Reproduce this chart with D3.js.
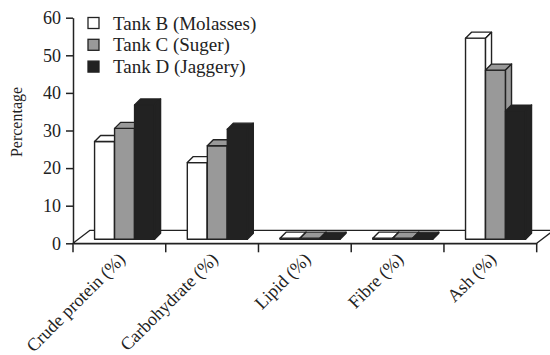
<!DOCTYPE html>
<html>
<head>
<meta charset="utf-8">
<script src="https://cdn.jsdelivr.net/npm/d3@7"></script>
<style>
  html, body { margin: 0; padding: 0; background: #fff; }
  svg { display: block; }
  svg text { font-family: "Liberation Serif", "DejaVu Serif", "Times New Roman", serif; }
</style>
</head>
<body>
<svg id="chart" width="550" height="355"></svg>
<script>
// Proximate composition by tank
const categories = ["Crude protein (%)", "Carbohydrate (%)", "Lipid (%)", "Fibre (%)", "Ash (%)"];
const seriesNames = ["Tank B (Molasses)", "Tank C (Suger)", "Tank D (Jaggery)"];
const tankB = [26.0, 20.4, 0.3, 0.3, 53.5];
const tankC = [29.5, 24.9, 0.3, 0.3, 45.0];
const tankD = [35.7, 29.3, 0.3, 0.3, 34.1];
const yTicks = [0, 10, 20, 30, 40, 50, 60];

const seriesValues = [tankB, tankC, tankD];
const fills = ["#ffffff", "#999999", "#222222"];
const ink = "#222222";
const serif = '"Liberation Serif", "DejaVu Serif", serif';

const svg = d3.select("#chart");

const x = d3.scaleBand().domain(categories).range([73, 536.7]);
const y = d3.scaleLinear().domain([0, 60]).range([243.3, 17.7]);
const groupW = 60;
const xs = d3.scaleBand().domain(seriesNames).range([0, groupW]);

// oblique offsets: floor depth, bar placement on the floor, bar thickness
const floorD = { dx: 17, dy: -13 };
const barPos = { dx: 5.2, dy: -4 };
const barD = { dx: 6, dy: -6 };

// floor
const fx0 = x.range()[0], fx1 = x.range()[1], fy = y(0);
const pts = a => a.map(p => p.join(",")).join(" ");
svg.append("polygon")
  .attr("points", pts([[fx0, fy], [fx1, fy], [fx1 + floorD.dx, fy + floorD.dy], [fx0 + floorD.dx, fy + floorD.dy]]))
  .attr("fill", "#fff").attr("stroke", ink).attr("stroke-width", 1.3).attr("stroke-linejoin", "round");

// bars: front, top and side faces
categories.forEach((cat, ci) => {
  seriesNames.forEach((s, si) => {
    const v = seriesValues[si][ci];
    const x0 = x(cat) + (x.bandwidth() - groupW) / 2 + xs(s) + barPos.dx;
    const x1 = x0 + xs.bandwidth();
    const yb = y(0) + barPos.dy;
    const yt = y(v) + barPos.dy;
    const g = svg.append("g");
    const style = sel => sel.attr("fill", fills[si]).attr("stroke", ink)
      .attr("stroke-width", 1.4).attr("stroke-linejoin", "round");
    g.append("polygon").attr("points", pts([[x0, yt], [x1, yt], [x1, yb], [x0, yb]])).call(style);
    g.append("polygon").attr("points", pts([[x0, yt], [x1, yt], [x1 + barD.dx, yt + barD.dy], [x0 + barD.dx, yt + barD.dy]])).call(style);
    g.append("polygon").attr("points", pts([[x1, yt], [x1 + barD.dx, yt + barD.dy], [x1 + barD.dx, yb + barD.dy], [x1, yb]])).call(style);
  });
});

// y axis
const yAxis = svg.append("g")
  .attr("transform", `translate(${fx0},0)`)
  .call(d3.axisLeft(y).tickValues(yTicks).tickSize(7).tickSizeOuter(0).tickPadding(5));
yAxis.attr("font-family", serif);
yAxis.select(".domain").attr("stroke", ink).attr("stroke-width", 1.5);
yAxis.selectAll(".tick line").attr("stroke", ink).attr("stroke-width", 1.5);
yAxis.selectAll(".tick text").attr("fill", ink).style("font-size", "18px");

// x axis
const xAxis = svg.append("g")
  .attr("transform", `translate(0,${fy})`)
  .call(d3.axisBottom(x).tickSize(0).tickFormat(""));
xAxis.attr("font-family", serif);
xAxis.select(".domain").attr("stroke", ink).attr("stroke-width", 1.5);
const bounds = categories.map(c => x(c)).concat([fx1]);
xAxis.selectAll("line.bound").data(bounds).enter().append("line")
  .attr("class", "bound")
  .attr("x1", d => d).attr("x2", d => d).attr("y1", 0).attr("y2", 9)
  .attr("stroke", ink).attr("stroke-width", 1.5);
xAxis.selectAll("text.cat").data(categories).enter().append("text")
  .attr("class", "cat")
  .attr("transform", d => `translate(${x(d) + x.bandwidth() / 2 + 7},${17}) rotate(-45)`)
  .attr("text-anchor", "end")
  .attr("fill", ink)
  .style("font-size", "18px")
  .text(d => d);

// y axis title
svg.append("text")
  .attr("transform", "translate(22,122) rotate(-90)")
  .attr("text-anchor", "middle")
  .attr("fill", ink)
  .style("font-size", "16px")
  .text("Percentage");

// legend
const legend = svg.append("g");
seriesNames.forEach((s, i) => {
  const ly = 17.5 + i * 21.8;
  legend.append("rect").attr("x", 88).attr("y", ly).attr("width", 11).attr("height", 11)
    .attr("fill", fills[i]).attr("stroke", ink).attr("stroke-width", 1.3);
  legend.append("text").attr("x", 113).attr("y", ly + 12)
    .attr("fill", ink).style("font-size", "19px").text(s);
});
</script>
</body>
</html>
